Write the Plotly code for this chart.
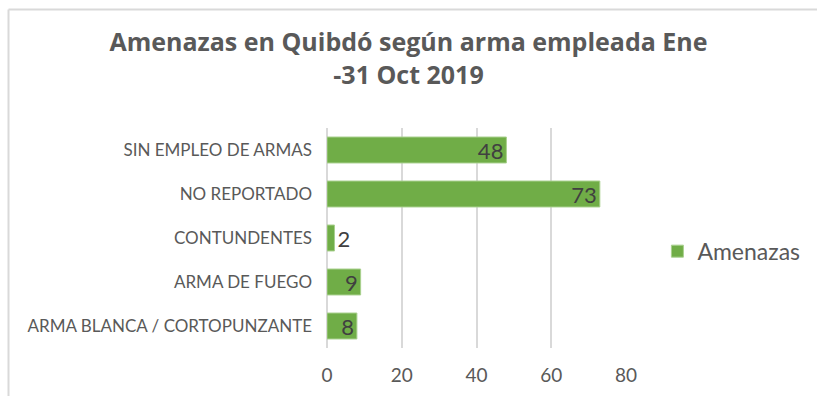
import plotly.graph_objects as go

# Amenazas en Quibdó por tipo de arma (Ene - 31 Oct 2019)
categorias = [
    "ARMA BLANCA / CORTOPUNZANTE",
    "ARMA DE FUEGO",
    "CONTUNDENTES",
    "NO REPORTADO",
    "SIN EMPLEO DE ARMAS",
]
amenazas = [8, 9, 2, 73, 48]
serie = "Amenazas"
titulo = "<b>Amenazas en Quibdó según arma empleada Ene<br>-31 Oct 2019</b>"
ticks_x = [0, 20, 40, 60, 80]

FONT = "Lato"
GRIS = "#595959"
VERDE = "#70ad47"

fig = go.Figure(
    go.Bar(
        y=categorias,
        x=amenazas,
        orientation="h",
        name=serie,
        marker=dict(color=VERDE, line=dict(color="#a9d08e", width=1)),
        text=[str(v) for v in amenazas],
        textposition="auto",
        textangle=0,
        insidetextanchor="end",
        textfont=dict(family=FONT, size=22, color="#404040"),
        constraintext="none",
        cliponaxis=False,
        showlegend=True,
    )
)

fig.update_layout(
    width=817,
    height=396,
    margin=dict(l=327, r=191, t=128, b=48, autoexpand=False),
    paper_bgcolor="white",
    plot_bgcolor="white",
    bargap=0.41,
    font=dict(family=FONT, color=GRIS),
    title=dict(
        text=titulo,
        x=0.5,
        xanchor="center",
        y=0.87,
        yanchor="top",
        font=dict(family="Open Sans", size=25, color=GRIS),
    ),
    xaxis=dict(
        range=[0, 80],
        tickvals=ticks_x,
        showgrid=True,
        gridcolor="#d9d9d9",
        gridwidth=1.5,
        zeroline=True,
        zerolinecolor="#d9d9d9",
        zerolinewidth=1.5,
        showline=False,
        ticks="",
        ticklabelstandoff=14,
        tickfont=dict(family=FONT, size=19, color=GRIS),
        fixedrange=True,
    ),
    yaxis=dict(
        showgrid=False,
        zeroline=False,
        showline=False,
        ticks="",
        ticklabelstandoff=14,
        tickfont=dict(family=FONT, size=17, color=GRIS),
        fixedrange=True,
    ),
    legend=dict(
        x=1.105,
        y=0.44,
        xanchor="left",
        yanchor="middle",
        font=dict(family=FONT, size=23, color=GRIS),
        itemwidth=30,
    ),
    shapes=[
        # marco exterior del gráfico (bordes izquierdo y superior)
        dict(type="line", xref="paper", yref="paper",
             x0=(8.5 - 327) / 299, x1=(830 - 327) / 299,
             y0=(348 - 9.5) / 220, y1=(348 - 9.5) / 220,
             line=dict(color="#d9d9d9", width=2)),
        dict(type="line", xref="paper", yref="paper",
             x0=(8.5 - 327) / 299, x1=(8.5 - 327) / 299,
             y0=(348 - 9.5) / 220, y1=(348 - 410) / 220,
             line=dict(color="#d9d9d9", width=2)),
    ],
)

fig.write_html("out.html")
